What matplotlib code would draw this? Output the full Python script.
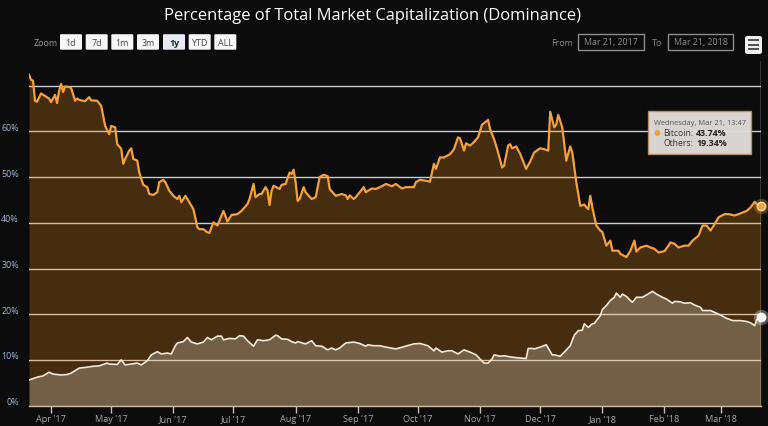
import pandas as pd
import matplotlib
matplotlib.use('Agg')
import matplotlib.pyplot as plt
import matplotlib.dates as mdates
from matplotlib.patches import FancyBboxPatch, Rectangle

# Данные: день от 21.03.2017 и доля, %
start_date = '2017-03-21'

btc_day = [0, 1, 2, 3, 4, 6, 10, 11, 13, 14, 15, 16, 17, 18, 20, 21, 23, 24, 25, 28,
           30, 31, 34, 36, 38, 40, 41, 43, 44, 46, 47, 48, 50, 51, 52, 54, 55, 57, 59, 60,
           62, 64, 65, 67, 68, 70, 72, 74, 75, 76, 78, 79, 82, 84, 85, 87, 89, 90, 92, 94,
           97, 99, 101, 104, 106, 109, 110, 112, 113, 115, 116, 118, 119, 120, 121, 122, 125, 126, 128, 130,
           131, 132, 133, 134, 135, 137, 138, 141, 143, 145, 147, 149, 150, 153, 156, 158, 159, 160, 162, 163,
           165, 167, 168, 171, 173, 176, 178, 181, 183, 186, 188, 192, 193, 195, 198, 200, 202, 203, 205, 207,
           210, 212, 214, 215, 217, 218, 220, 222, 224, 226, 227, 229, 230, 232, 234, 236, 237, 239, 240, 241,
           243, 245, 248, 250, 252, 255, 257, 259, 260, 262, 263, 264, 266, 268, 270, 271, 273, 275, 277, 278,
           279, 280, 281, 283, 285, 286, 288, 290, 291, 294, 295, 298, 300, 302, 303, 305, 308, 310, 312, 314,
           317, 319, 320, 322, 324, 327, 329, 331, 334, 336, 338, 340, 342, 344, 347, 349, 352, 354, 358, 360,
           362, 364, 365]
btc_val = [72.4, 71.3, 71.1, 66.7, 66.5, 68.3, 67.2, 66.4, 68.0, 66.2, 68.8, 70.4, 68.6, 69.8, 69.7, 69.5, 66.7, 67.2, 66.9, 66.6,
           67.5, 66.8, 66.7, 65.6, 61.2, 59.4, 61.2, 60.9, 57.2, 56.2, 52.9, 54.0, 55.8, 56.3, 54.0, 53.6, 51.0, 48.3, 47.8, 46.3,
           46.1, 46.7, 48.9, 49.4, 48.9, 47.0, 45.9, 45.2, 45.9, 44.5, 45.9, 45.2, 43.0, 39.0, 38.6, 38.6, 37.9, 37.8, 40.1, 39.4,
           42.6, 40.3, 41.7, 41.9, 42.6, 44.1, 45.2, 48.5, 45.6, 46.3, 46.3, 47.8, 47.0, 43.9, 47.0, 48.1, 47.4, 48.3, 48.5, 51.0,
           50.7, 51.6, 48.9, 44.8, 45.2, 47.8, 46.7, 45.2, 45.6, 50.0, 50.5, 50.2, 47.4, 45.9, 46.3, 46.0, 45.2, 46.0, 45.2, 45.6,
           46.7, 47.8, 46.7, 47.5, 47.4, 48.0, 48.5, 48.0, 48.5, 47.5, 47.8, 47.8, 48.9, 49.4, 49.2, 49.0, 52.9, 51.8, 54.3, 54.3,
           55.0, 56.1, 58.7, 58.5, 55.8, 57.4, 56.9, 57.7, 58.7, 61.5, 61.8, 62.5, 60.5, 58.3, 55.4, 52.1, 52.5, 56.9, 57.2, 56.3,
           56.7, 55.1, 51.8, 53.4, 55.4, 56.3, 56.1, 55.8, 64.3, 60.9, 61.5, 63.6, 60.9, 53.6, 56.7, 55.4, 48.9, 43.7, 44.0, 43.4,
           43.0, 45.9, 43.4, 39.4, 38.3, 38.0, 35.0, 36.1, 33.9, 33.9, 33.2, 32.5, 33.9, 36.1, 33.7, 34.6, 35.0, 34.6, 34.3, 33.5,
           33.8, 35.0, 35.7, 35.4, 34.6, 35.0, 35.0, 36.1, 37.2, 39.4, 39.4, 38.3, 39.7, 41.2, 41.9, 41.9, 41.6, 41.9, 42.6, 43.4,
           44.6, 43.7, 43.74]

oth_day = [0, 4, 7, 10, 12, 16, 19, 21, 25, 29, 32, 35, 39, 40, 44, 46, 48, 51, 54, 56,
           59, 61, 64, 66, 69, 71, 73, 74, 77, 79, 81, 84, 87, 89, 91, 94, 96, 97, 100, 103,
           105, 107, 109, 112, 114, 117, 120, 123, 124, 126, 129, 131, 133, 134, 138, 141, 143, 146, 149, 151,
           153, 155, 158, 162, 165, 168, 169, 172, 175, 178, 183, 188, 192, 195, 199, 202, 203, 206, 209, 211,
           214, 217, 220, 223, 225, 227, 229, 231, 232, 235, 237, 241, 245, 248, 249, 251, 252, 255, 258, 259,
           261, 262, 265, 267, 270, 272, 274, 276, 277, 279, 281, 282, 285, 286, 288, 290, 292, 293, 295, 296,
           298, 300, 301, 303, 306, 308, 311, 313, 316, 318, 321, 322, 325, 327, 330, 332, 335, 336, 340, 342,
           345, 348, 351, 355, 358, 360, 362, 363, 365]
oth_val = [5.6, 6.2, 6.5, 7.3, 6.9, 6.7, 6.8, 7.1, 8.2, 8.4, 8.6, 8.7, 9.3, 9.1, 9.0, 10.0, 8.9, 9.1, 9.3, 8.9,
           9.8, 11.1, 11.8, 11.3, 11.5, 11.3, 13.1, 13.7, 14.0, 14.9, 13.9, 13.5, 13.9, 14.9, 14.4, 15.2, 15.2, 14.4, 14.7, 14.6,
           15.3, 15.2, 14.2, 13.0, 14.4, 14.2, 14.4, 15.4, 15.3, 14.6, 14.5, 14.0, 13.7, 14.0, 13.5, 14.2, 13.1, 13.0, 12.2, 12.6,
           12.2, 12.6, 13.7, 13.9, 13.6, 13.0, 13.3, 13.1, 13.1, 12.8, 12.4, 13.0, 13.5, 13.6, 13.1, 12.0, 12.6, 11.7, 12.0, 12.0,
           11.3, 12.2, 11.7, 11.1, 10.2, 9.3, 9.3, 10.2, 11.1, 10.8, 10.9, 10.6, 10.4, 10.3, 12.5, 12.5, 12.4, 12.8, 13.3, 12.6,
           11.1, 11.1, 10.8, 11.7, 13.1, 15.4, 16.4, 16.5, 17.9, 17.1, 17.9, 18.0, 19.7, 21.0, 21.9, 23.0, 23.7, 24.6, 23.7, 24.4,
           23.9, 23.0, 22.6, 23.7, 23.7, 24.2, 25.0, 24.4, 23.7, 23.3, 22.4, 22.8, 22.7, 22.4, 22.5, 22.0, 21.5, 20.8, 20.8, 20.4,
           19.8, 19.1, 18.6, 18.6, 18.4, 18.1, 17.5, 18.8, 19.34]

y_ticks = [0, 10, 20, 30, 40, 50, 60]
zoom_buttons = ['1d', '7d', '1m', '3m', '1y', 'YTD', 'ALL']

t0 = pd.Timestamp(start_date)
btc_dates = t0 + pd.to_timedelta(btc_day, unit='D')
oth_dates = t0 + pd.to_timedelta(oth_day, unit='D')

W, H = 768, 427
bg = '#0c0c0c'
orange = '#f4a03c'
cream = '#f3ead8'

plt.rcParams['font.family'] = ['Open Sans', 'DejaVu Sans']

fig = plt.figure(figsize=(W / 100, H / 100), dpi=100, facecolor=bg)


def fx(px):
    return px / W


def fy(py):
    return 1 - py / H


# область графика в пикселях
left, right, top, bottom = 29, 760.7, 62, 406.6
ax = fig.add_axes([fx(left), fy(bottom), (right - left) / W, (bottom - top) / H])
ax.set_facecolor(bg)

ax.set_xlim(t0, t0 + pd.Timedelta(days=365))
ymax = (bottom - top) / 4.57
ax.set_ylim(0, ymax)

# сетка
for v in y_ticks + [70]:
    if v > 0:
        ax.axhline(v, color='#cccccc', lw=1, zorder=1)

ax.fill_between(btc_dates, btc_val, 0, color='#f7931a', alpha=0.25, lw=0, zorder=2)
ax.fill_between(oth_dates, oth_val, 0, color='#f0e6dc', alpha=0.27, lw=0, zorder=3)
ax.plot(btc_dates, btc_val, color=orange, lw=1.6, zorder=4, solid_joinstyle='round')
ax.plot(oth_dates, oth_val, color=cream, lw=1.2, zorder=4, solid_joinstyle='round')

# перекрестие и маркеры
ax.axvline(btc_dates[-1], color='#cfcfcf', lw=1, zorder=5)
ax.plot([btc_dates[-1]], [btc_val[-1]], 'o', ms=11, color=orange, alpha=0.3, clip_on=False, zorder=6, mew=0)
ax.plot([btc_dates[-1]], [btc_val[-1]], 'o', ms=6, color=orange, mec='#f8e0b0', mew=1, clip_on=False, zorder=7)
ax.plot([oth_dates[-1]], [oth_val[-1]], 'o', ms=11, color='#ffffff', alpha=0.3, clip_on=False, zorder=6, mew=0)
ax.plot([oth_dates[-1]], [oth_val[-1]], 'o', ms=6, color='#f4f4f4', mec='#ffffff', mew=1, clip_on=False, zorder=7)

# оси
for s in ['top', 'left', 'right']:
    ax.spines[s].set_visible(False)
ax.spines['bottom'].set_color('#cbbfab')
ax.spines['bottom'].set_linewidth(1)

ax.xaxis.set_major_locator(mdates.MonthLocator())
ax.xaxis.set_major_formatter(mdates.DateFormatter("%b '%y"))
ax.tick_params(axis='x', colors='#cbbfab', labelcolor='#a5a5a5', labelsize=6.6, length=5, width=1, pad=1)
ax.set_yticks(y_ticks)
ax.set_yticklabels([])
ax.tick_params(axis='y', length=0)
for v in y_ticks:
    fig.text(fx(19), fy(bottom - v * 4.57 - 4), f'{v}%', color='#9fb3d4', fontsize=6.4,
             ha='right', va='center')

# заголовок
fig.text(fx(372.5), fy(16), 'Percentage of Total Market Capitalization (Dominance)', color='white',
         fontsize=11.9, ha='center', va='center')

# кнопки масштаба
fig.text(fx(34), fy(43), 'Zoom', color='#9a9a9a', fontsize=6.4, ha='left', va='center')
bx = [60, 85.7, 111.3, 137, 163, 188.7, 214.3]
for x, lbl in zip(bx, zoom_buttons):
    active = lbl == '1y'
    fc = '#e6ebf5' if active else '#f7f7f7'
    fig.patches.append(FancyBboxPatch((fx(x), fy(50.7)), 22 / W, 15.5 / H,
                                      boxstyle='round,pad=0,rounding_size=0.002',
                                      transform=fig.transFigure, fc=fc, ec='none'))
    fig.text(fx(x + 11), fy(43), lbl, color='#222222' if active else '#444444', fontsize=6.4,
             fontweight='bold' if active else 'normal', ha='center', va='center')

# поля дат
fig.text(fx(573), fy(43), 'From', color='#8a8a8a', fontsize=6.4, ha='right', va='center')
fig.text(fx(662), fy(43), 'To', color='#8a8a8a', fontsize=6.4, ha='right', va='center')
for x0, x1, txt in [(578.3, 644, 'Mar 21, 2017'), (667.7, 733.3, 'Mar 21, 2018')]:
    fig.patches.append(Rectangle((fx(x0), fy(51)), (x1 - x0) / W, 16 / H, transform=fig.transFigure,
                                 fc=bg, ec='#8c8c8c', lw=1))
    fig.text(fx((x0 + x1) / 2), fy(43), txt, color='#8a8a8a', fontsize=6.4, ha='center', va='center')

# меню
fig.patches.append(FancyBboxPatch((fx(745), fy(55)), 17 / W, 18 / H,
                                  boxstyle='round,pad=0,rounding_size=0.004',
                                  transform=fig.transFigure, fc='#f0f0f0', ec='none'))
for yy in [41, 45.5, 50]:
    fig.patches.append(Rectangle((fx(748), fy(yy + 1)), 11 / W, 2 / H, transform=fig.transFigure,
                                 fc='#555555', ec='none'))

# подсказка
fig.patches.append(Rectangle((fx(648.3), fy(155)), 102.4 / W, 43.3 / H, transform=fig.transFigure,
                             fc='#e4e1dc', ec='#b8936a', lw=1, alpha=0.95, zorder=10))
fig.text(fx(653.5), fy(123.5), 'Wednesday, Mar 21, 13:47', color='#555555', fontsize=5.4, ha='left',
         va='center', zorder=11)
fig.text(fx(654), fy(133.5), '●', color='#f0a040', fontsize=5.5, ha='left', va='center', zorder=11)
fig.text(fx(663), fy(133.5), 'Bitcoin:', color='#333333', fontsize=6.2, ha='left', va='center', zorder=11)
fig.text(fx(727), fy(133.5), f'{btc_val[-1]:.2f}%', color='#222222', fontsize=6.4, fontweight='bold',
         ha='right', va='center', zorder=11)
fig.text(fx(663), fy(143.5), 'Others:', color='#333333', fontsize=6.2, ha='left', va='center', zorder=11)
fig.text(fx(727), fy(143.5), f'{oth_val[-1]:.2f}%', color='#222222', fontsize=6.4, fontweight='bold',
         ha='right', va='center', zorder=11)

plt.savefig('out.png', dpi=100, facecolor=bg)
plt.close()
